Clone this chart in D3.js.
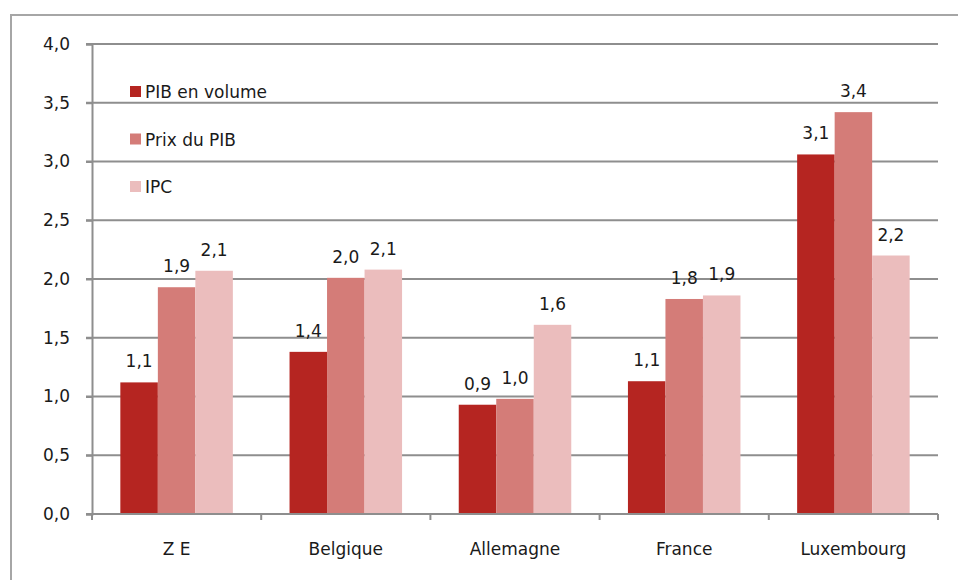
<!DOCTYPE html>
<html><head><meta charset="utf-8">
<script src="https://cdn.jsdelivr.net/npm/d3@7"></script>
<style>body{margin:0;background:#fff}svg{display:block}text{font-family:"DejaVu Sans",sans-serif;fill:#1a1a1a}</style>
</head><body>
<svg id="c" width="958" height="580"></svg>
<script>
const categories = ["Z E","Belgique","Allemagne","France","Luxembourg"];
const seriesNames = ["PIB en volume","Prix du PIB","IPC"];
const pibVolume = [1.12,1.38,0.93,1.13,3.06];
const prixPib   = [1.93,2.01,0.98,1.83,3.42];
const ipc       = [2.07,2.08,1.61,1.86,2.20];
const yTicks = [0,0.5,1,1.5,2,2.5,3,3.5,4];
const colors = ["#b52521","#d47c78","#ebbdbd"];

const series = [pibVolume, prixPib, ipc];
const svg = d3.select("#c");
const L=92, R=938, T=44, B=514;

// outer frame
svg.append("path").attr("d","M11,580 V15 H958").attr("fill","none").attr("stroke","#a6a6a6").attr("stroke-width",2);

const x0 = d3.scaleBand().domain(categories).range([L,R]).padding(0);
const bw = x0.bandwidth();
const x1 = d3.scaleBand().domain(seriesNames).range([bw*0.1675, bw*0.8325]).padding(0);
const y = d3.scaleLinear().domain([0,4]).range([B,T]);

// gridlines
svg.append("g").selectAll("line").data(yTicks.filter(d=>d>0)).join("line")
  .attr("x1",L-6).attr("x2",R).attr("y1",d=>y(d)).attr("y2",d=>y(d))
  .attr("stroke","#8e8e8e").attr("stroke-width",2);

// y axis
const fmt = d => d3.format(".1f")(d).replace(".",",");
const ya = svg.append("g").attr("transform",`translate(${L},0)`)
  .call(d3.axisLeft(y).tickValues(yTicks).tickFormat(fmt).tickSize(6).tickPadding(16));
ya.select(".domain").attr("stroke","#8e8e8e").attr("stroke-width",2);
ya.selectAll(".tick line").attr("stroke","#8e8e8e").attr("stroke-width",2);
ya.selectAll("text").attr("font-size",17).attr("font-family","DejaVu Sans").attr("fill","#1a1a1a");

// bars
const g = svg.append("g");
categories.forEach((c,i)=>{
  seriesNames.forEach((s,j)=>{
    const v = series[j][i];
    const bx = x0(c)+x1(s);
    g.append("rect").attr("x",bx).attr("y",y(v)).attr("width",x1.bandwidth()).attr("height",y(0)-y(v))
      .attr("fill",colors[j]);
    g.append("text").attr("x",bx+x1.bandwidth()/2).attr("y",y(v)-15).attr("text-anchor","middle")
      .attr("font-size",17).text(fmt(v));
  });
});

// x axis
const xa = svg.append("g").attr("transform",`translate(0,${B})`);
xa.append("line").attr("x1",L-6).attr("x2",R).attr("stroke","#8e8e8e").attr("stroke-width",2);
const bounds = categories.map(c=>x0(c)).concat([R]);
xa.selectAll(".tk").data(bounds).join("line").attr("class","tk")
  .attr("x1",d=>d).attr("x2",d=>d).attr("y1",0).attr("y2",6).attr("stroke","#8e8e8e").attr("stroke-width",2);
xa.selectAll(".lb").data(categories).join("text").attr("class","lb")
  .attr("x",d=>x0(d)+bw/2).attr("y",41).attr("text-anchor","middle").attr("font-size",17).text(d=>d);

// legend
const lg = svg.append("g");
seriesNames.forEach((s,j)=>{
  const cy = 91.5 + j*47.5;
  lg.append("rect").attr("x",130).attr("y",cy-5.5).attr("width",11).attr("height",11).attr("fill",colors[j]);
  lg.append("text").attr("x",145).attr("y",cy+6.5).attr("font-size",17).text(s);
});
</script>
</body></html>
